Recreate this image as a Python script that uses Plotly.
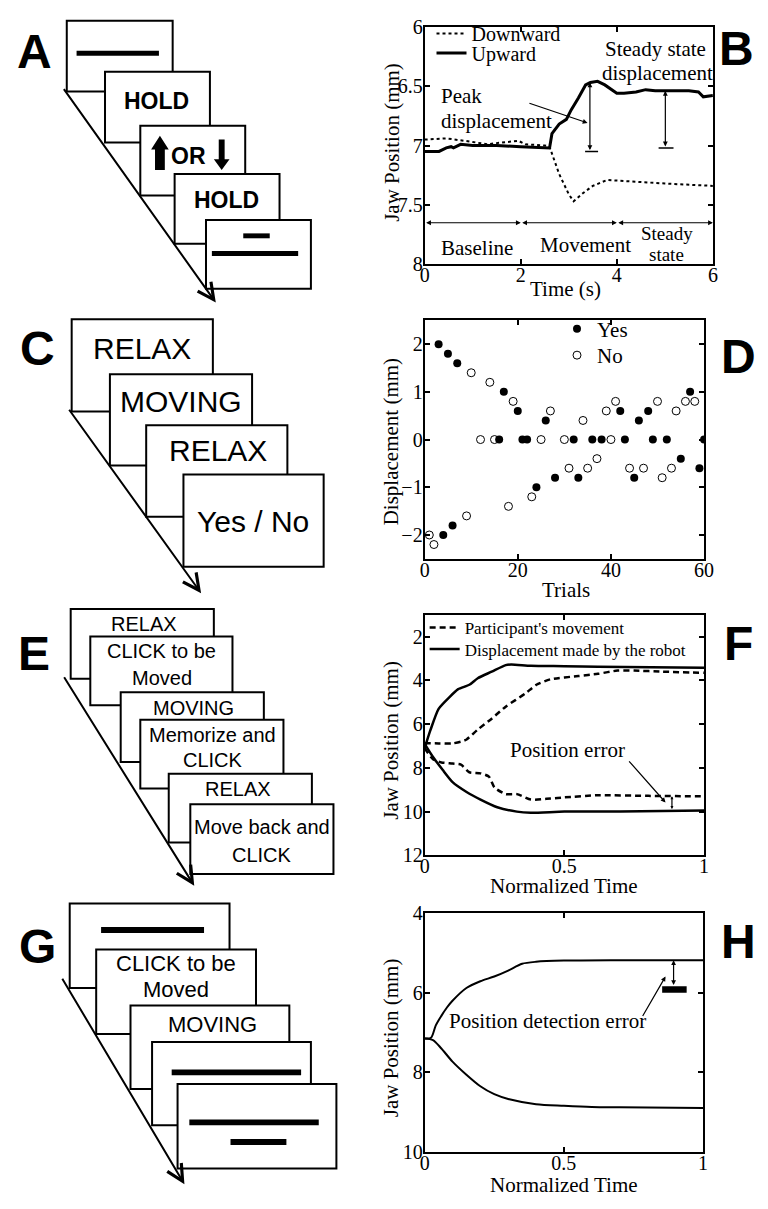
import plotly.graph_objects as go

W, H = 768, 1209

# ---------------- DATA ----------------
# Panel B
b_t_down = [0, 0.45, 1.0, 1.3, 1.5, 1.95, 2.1, 2.5, 2.6, 2.7, 2.8, 3.0, 3.1, 3.3, 3.5, 3.8, 4.5, 5.0, 6.0]
b_y_down = [6.95, 6.94, 6.97, 6.99, 6.98, 6.96, 6.99, 7.0, 7.01, 7.13, 7.24, 7.41, 7.47, 7.40, 7.34, 7.29, 7.31, 7.32, 7.34]
b_t_up = [0, 0.3, 0.45, 0.55, 0.6, 0.75, 1.0, 1.5, 2.0, 2.6, 2.65, 2.8, 2.95, 3.05, 3.2, 3.35, 3.45, 3.6, 3.75, 3.9, 4.0, 4.15, 4.4, 4.6, 4.8, 5.5, 5.7, 5.8, 6.0]
b_y_up = [7.05, 7.05, 7.02, 7.01, 7.02, 6.99, 7.0, 7.0, 7.01, 7.02, 6.9, 6.82, 6.78, 6.7, 6.6, 6.49, 6.47, 6.46, 6.49, 6.53, 6.56, 6.56, 6.55, 6.53, 6.54, 6.54, 6.55, 6.59, 6.58]
b_xticks = [0, 2, 4, 6]
b_yticks = [6, 6.5, 7, 7.5, 8]

# Panel D
d_yes_trial = [3, 4, 5, 6, 7, 16, 17, 20, 21, 22, 24, 26, 28, 32, 33, 36, 38, 42, 43, 45, 46, 48, 49, 52, 55, 57, 59, 60]
d_yes_disp = [2.0, -2.0, 1.8, -1.8, 1.6, 0, 1.0, 0.6, 0, 0, -1.0, 0.4, -0.8, 0, -0.8, 0, 0, 0.6, 0, -0.8, 0.4, 0.6, 0, 0, -0.4, 1.0, -0.6, 0]
d_no_trial = [1, 2, 9, 10, 12, 14, 15, 18, 19, 23, 25, 27, 30, 31, 34, 35, 37, 39, 40, 41, 44, 47, 50, 51, 53, 54, 56, 58]
d_no_disp = [-2.0, -2.2, -1.6, 1.4, 0, 1.2, 0, -1.4, 0.8, -1.2, 0, 0.6, 0, -0.6, 0.4, -0.6, -0.4, 0.6, 0, 0.8, -0.6, -0.6, 0.8, -0.8, -0.6, 0.6, 0.8, 0.8]
d_xticks = [0, 20, 40, 60]
d_yticks = [-2, -1, 0, 1, 2]

# Panel F
f_part_up_t = [0, 0.05, 0.1, 0.13, 0.15, 0.19, 0.24, 0.29, 0.36, 0.4, 0.45, 0.55, 0.62, 0.69, 0.75, 0.85, 1.0]
f_part_up_y = [6.87, 6.88, 6.88, 6.8, 6.7, 6.25, 5.75, 5.2, 4.6, 4.2, 3.95, 3.8, 3.7, 3.55, 3.55, 3.6, 3.65]
f_part_dn_t = [0, 0.03, 0.06, 0.1, 0.13, 0.16, 0.2, 0.23, 0.25, 0.29, 0.33, 0.38, 0.45, 0.5, 0.62, 0.8, 1.0]
f_part_dn_y = [7.1, 7.6, 7.75, 7.8, 7.85, 8.2, 8.25, 8.4, 8.9, 9.2, 9.2, 9.45, 9.4, 9.35, 9.25, 9.28, 9.3]
f_rob_up_t = [0, 0.02, 0.05, 0.09, 0.12, 0.16, 0.19, 0.24, 0.29, 0.31, 0.38, 0.5, 0.62, 1.0]
f_rob_up_y = [7.1, 6.3, 5.3, 4.75, 4.4, 4.2, 3.9, 3.6, 3.3, 3.27, 3.33, 3.35, 3.38, 3.42]
f_rob_dn_t = [0, 0.03, 0.065, 0.1, 0.15, 0.2, 0.26, 0.33, 0.38, 0.5, 0.7, 1.0]
f_rob_dn_y = [6.9, 7.5, 8.1, 8.65, 9.1, 9.45, 9.8, 10.0, 10.05, 10.0, 10.0, 9.95]
f_xticks = [0, 0.5, 1]
f_yticks = [2, 4, 6, 8, 10, 12]

# Panel H
h_up_t = [0, 0.023, 0.04, 0.06, 0.08, 0.1, 0.15, 0.2, 0.25, 0.3, 0.35, 0.4, 0.5, 0.7, 1.0]
h_up_y = [7.15, 7.13, 6.82, 6.58, 6.37, 6.2, 5.88, 5.71, 5.59, 5.44, 5.27, 5.22, 5.19, 5.18, 5.18]
h_dn_t = [0, 0.03, 0.06, 0.1, 0.15, 0.2, 0.25, 0.3, 0.4, 0.5, 0.6, 0.7, 1.0]
h_dn_y = [7.15, 7.19, 7.4, 7.73, 8.06, 8.35, 8.55, 8.67, 8.8, 8.84, 8.87, 8.88, 8.9]
h_xticks = [0, 0.5, 1]
h_yticks = [4, 6, 8, 10]

# ---------------- helpers ----------------
SERIF = "Liberation Serif"
SANS = "Liberation Sans"


def px(x):
    return x / W


def py(y):
    return 1 - y / H


shapes = []
annos = []


def rect(x0, y0, x1, y1, fill="white", lw=2):
    shapes.append(dict(type="rect", xref="paper", yref="paper",
                       x0=px(x0), x1=px(x1), y0=py(y1), y1=py(y0),
                       line=dict(color="black", width=lw), fillcolor=fill, layer="above"))


def bar(x0, x1, yc, th=5):
    shapes.append(dict(type="rect", xref="paper", yref="paper",
                       x0=px(x0), x1=px(x1), y0=py(yc + th / 2), y1=py(yc - th / 2),
                       line=dict(width=0), fillcolor="black", layer="above"))


def poly(pts):
    s = "M " + " L ".join(f"{px(x):.5f},{py(y):.5f}" for x, y in pts) + " Z"
    shapes.append(dict(type="path", xref="paper", yref="paper", path=s,
                       fillcolor="black", line=dict(width=0), layer="above"))


def txt(x, y, s, size, bold=False, family=SANS, angle=0):
    annos.append(dict(xref="paper", yref="paper", x=px(x), y=py(y), text=("<b>%s</b>" % s) if bold else s,
                      showarrow=False, xanchor="center", yanchor="middle", textangle=angle,
                      font=dict(family=family, size=size, color="black", weight="normal")))


def diag(x0, y0, x1, y1):
    annos.append(dict(xref="paper", yref="paper", x=px(x1), y=py(y1), ax=x0 - x1, ay=y0 - y1,
                      axref="pixel", ayref="pixel", text="", showarrow=True,
                      arrowhead=5, arrowsize=1.6, arrowwidth=2, arrowcolor="black"))


# ---------------- Panel A schematic ----------------
diag(62, 82, 215, 297)
rect(63, 10, 171, 82); bar(73, 157, 43, 5)
rect(102, 62, 209, 134); txt(155, 92, "HOLD", 23, bold=True)
rect(138, 117, 245, 188)
poly([(153, 162), (153, 141), (149, 141), (158, 127), (167, 141), (163, 141), (163, 162)])
txt(187, 148, "OR", 23, bold=True)
poly([(218, 131), (224, 131), (224, 151), (229, 151), (221, 162), (213, 151), (218, 151)])
rect(173, 166, 280, 237); txt(226, 193, "HOLD", 23, bold=True)
rect(205, 213, 312, 283); bar(243, 270, 229, 5); bar(211, 299, 247, 5)

# ---------------- Panel C schematic ----------------
diag(67, 408, 200, 593)
rect(68, 314, 212, 408); txt(140, 344, "RELAX", 30)
rect(107, 370, 252, 463); txt(179, 398, "MOVING", 30)
rect(144, 422, 288, 515); txt(217, 448, "RELAX", 30)
rect(182, 472, 325, 566); txt(253, 520, "Yes / No", 30)

# ---------------- Panel E schematic ----------------
diag(62, 681, 193, 891)
rect(67, 609, 213, 680); txt(142, 624, "RELAX", 20)
rect(87, 637, 232, 707); txt(160, 652, "CLICK to be", 20); txt(160, 679, "Moved", 20)
rect(118, 694, 264, 765); txt(192, 710, "MOVING", 20)
rect(138, 722, 284, 792); txt(212, 737, "Memorize and", 20); txt(212, 763, "CLICK", 20)
rect(167, 777, 313, 847); txt(238, 792, "RELAX", 20)
rect(189, 808, 335, 879); txt(262, 831, "Move back and", 20); txt(262, 860, "CLICK", 20)

# ---------------- Panel G schematic ----------------
diag(60, 988, 183, 1195)
rect(66, 909, 229, 995); bar(98, 203, 936, 6)
rect(93, 956, 256, 1042); txt(174, 970, "CLICK to be", 22); txt(174, 997, "Moved", 22)
rect(128, 1013, 290, 1098); txt(212, 1032, "MOVING", 22)
rect(150, 1050, 312, 1135); bar(170, 302, 1081, 6)
rect(176, 1093, 338, 1179); bar(188, 320, 1132, 6); bar(230, 287, 1152, 6)

# ---------------- panel letters ----------------
for s, x, y in [("A", 30, 41), ("C", 33, 344), ("E", 30, 654), ("G", 33, 953),
                ("B", 746, 38), ("D", 748, 352), ("F", 748, 644), ("H", 748, 948)]:
    txt(x, y, s, 48, bold=True)

# ---------------- axis titles (placed as rotated / plain text) ----------------
for s, x, y in [("Jaw Position (mm)", 394, 134), ("Displacement (mm)", 394, 439),
                ("Jaw Position (mm)", 394, 743), ("Jaw Position (mm)", 394, 1046)]:
    txt(x, y, s, 21, family=SERIF, angle=-90)
for s, x, y in [("Time (s)", 572, 283), ("Trials", 572, 590),
                ("Normalized Time", 570, 891), ("Normalized Time", 570, 1196)]:
    txt(x, y, s, 21, family=SERIF)

# ---------------- data panels ----------------
fig = go.Figure()
K = "black"

fig.add_trace(go.Scatter(x=b_t_down, y=b_y_down, mode="lines", name="Downward",
                         line=dict(color=K, width=2, dash="dot"), xaxis="x", yaxis="y", legend="legend"))
fig.add_trace(go.Scatter(x=b_t_up, y=b_y_up, mode="lines", name="Upward",
                         line=dict(color=K, width=3), xaxis="x", yaxis="y", legend="legend4"))

fig.add_trace(go.Scatter(x=d_yes_trial, y=d_yes_disp, mode="markers", name="Yes",
                         marker=dict(color=K, size=8, symbol="circle"), xaxis="x2", yaxis="y2", legend="legend2"))
fig.add_trace(go.Scatter(x=d_no_trial, y=d_no_disp, mode="markers", name="No",
                         marker=dict(color=K, size=8, symbol="circle-open", line=dict(width=1)),
                         xaxis="x2", yaxis="y2", legend="legend5"))

fig.add_trace(go.Scatter(x=f_part_up_t, y=f_part_up_y, mode="lines", name="Participant's movement",
                         line=dict(color=K, width=2.5, dash="6px,4px", shape="spline", smoothing=0.6),
                         xaxis="x3", yaxis="y3", legend="legend3"))
fig.add_trace(go.Scatter(x=f_rob_up_t, y=f_rob_up_y, mode="lines", name="Displacement made by the robot",
                         line=dict(color=K, width=2.5, shape="spline", smoothing=0.6),
                         xaxis="x3", yaxis="y3", legend="legend6"))
fig.add_trace(go.Scatter(x=f_part_dn_t, y=f_part_dn_y, mode="lines", showlegend=False,
                         line=dict(color=K, width=2.5, dash="6px,4px", shape="spline", smoothing=0.6),
                         xaxis="x3", yaxis="y3"))
fig.add_trace(go.Scatter(x=f_rob_dn_t, y=f_rob_dn_y, mode="lines", showlegend=False,
                         line=dict(color=K, width=2.5, shape="spline", smoothing=0.6),
                         xaxis="x3", yaxis="y3"))

fig.add_trace(go.Scatter(x=h_up_t, y=h_up_y, mode="lines", showlegend=False,
                         line=dict(color=K, width=2, shape="spline", smoothing=0.8), xaxis="x4", yaxis="y4"))
fig.add_trace(go.Scatter(x=h_dn_t, y=h_dn_y, mode="lines", showlegend=False,
                         line=dict(color=K, width=2, shape="spline", smoothing=0.8), xaxis="x4", yaxis="y4"))


def axis(rng, ticks, dom, anchor, standoff):
    return dict(range=rng, tickvals=ticks, ticks="inside", ticklen=5, tickwidth=1.5, tickcolor=K,
                showline=True, linecolor=K, linewidth=2, mirror="ticks", showgrid=False, zeroline=False,
                tickfont=dict(family=SERIF, size=20, color=K), domain=dom, anchor=anchor,
                ticklabelstandoff=standoff)


def xd(a, b):
    return [a / W, b / W]


def yd(top, bot):
    return [1 - bot / H, 1 - top / H]


def leg(x, ytop, size):
    return dict(x=px(x), y=py(ytop), xanchor="left", yanchor="top", bgcolor="rgba(0,0,0,0)",
                font=dict(family=SERIF, size=size, color=K))


fig.update_layout(
    width=W, height=H, margin=dict(l=0, r=0, t=0, b=0),
    paper_bgcolor="white", plot_bgcolor="white",
    xaxis=axis([0, 6], b_xticks, xd(428, 722), "y", -8),
    yaxis=axis([8, 6], b_yticks, yd(16, 258), "x", -4),
    xaxis2=axis([0, 60], d_xticks, xd(428, 713), "y2", -8),
    yaxis2=axis([-2.5, 2.5], d_yticks, yd(315, 558), "x2", -4),
    xaxis3=axis([0, 1], f_xticks, xd(428, 713), "y3", -8),
    yaxis3=axis([12, 1], f_yticks, yd(615, 860), "x3", -4),
    xaxis4=axis([0, 1], h_xticks, xd(428, 712), "y4", -8),
    yaxis4=axis([10, 4], h_yticks, yd(919, 1162), "x4", -4),
    legend=leg(435, 3, 20), legend4=leg(435, 23, 20),
    legend2=leg(563, 303, 21), legend5=leg(563, 330, 21),
    legend3=leg(428, 610, 17), legend6=leg(428, 632, 17),
    showlegend=True,
)


def darrow(xr, yr, x, y, ax_, ay_, both=False, size=0.8, width=1.2):
    a = dict(xref=xr, yref=yr, axref=xr, ayref=yr, x=x, y=y, ax=ax_, ay=ay_, text="", showarrow=True,
             arrowhead=2, arrowsize=size, arrowwidth=width, arrowcolor=K)
    if both:
        a.update(arrowside="end+start", startarrowhead=2, startarrowsize=size)
    annos.append(a)


def dline(xr, yr, x0, y0, x1, y1, w=1.5):
    shapes.append(dict(type="line", xref=xr, yref=yr, x0=x0, y0=y0, x1=x1, y1=y1, line=dict(color=K, width=w)))


def dtxt(xr, yr, x, y, s, size=21, xanchor="center"):
    annos.append(dict(xref=xr, yref=yr, x=x, y=y, text=s, showarrow=False, xanchor=xanchor, yanchor="middle",
                      align="left" if xanchor == "left" else "center",
                      font=dict(family=SERIF, size=size, color=K)))


# Panel B annotations
for a, b in [(0, 2), (2, 4), (4, 6)]:
    darrow("x", "y", b, 7.65, a, 7.65, both=True)
darrow("x", "y", 3.44, 6.47, 3.44, 7.05, both=True)
dline("x", "y", 3.34, 7.05, 3.61, 7.05)
darrow("x", "y", 5.01, 6.54, 5.01, 7.02, both=True)
dline("x", "y", 4.87, 7.02, 5.18, 7.02)
darrow("x", "y", 3.39, 6.81, 2.15, 6.64)
dtxt("x", "y", 4.8, 6.187, "Steady state")
dtxt("x", "y", 4.84, 6.39, "displacement")
dtxt("x", "y", 0.29, 6.585, "Peak", xanchor="left")
dtxt("x", "y", 0.29, 6.79, "displacement", xanchor="left")
dtxt("x", "y", 1.09, 7.86, "Baseline")
dtxt("x", "y", 3.34, 7.84, "Movement")
dtxt("x", "y", 5.04, 7.74, "Steady", size=19)
dtxt("x", "y", 5.04, 7.92, "state", size=19)

# Panel F annotations
dtxt("x3", "y3", 0.51, 7.18, "Position error")
darrow("x3", "y3", 0.862, 9.58, 0.727, 7.63)
darrow("x3", "y3", 0.885, 9.3, 0.885, 9.95, both=True, size=0.5)

# Panel H annotations
dtxt("x4", "y4", 0.44, 6.7, "Position detection error")
darrow("x4", "y4", 0.865, 5.59, 0.78, 6.62)
darrow("x4", "y4", 0.894, 5.18, 0.894, 5.84, both=True)
shapes.append(dict(type="rect", xref="x4", yref="y4", x0=0.853, x1=0.941, y0=5.835, y1=6.0,
                   fillcolor=K, line=dict(width=0)))

fig.update_layout(shapes=shapes, annotations=annos)
fig.write_html("out.html")
